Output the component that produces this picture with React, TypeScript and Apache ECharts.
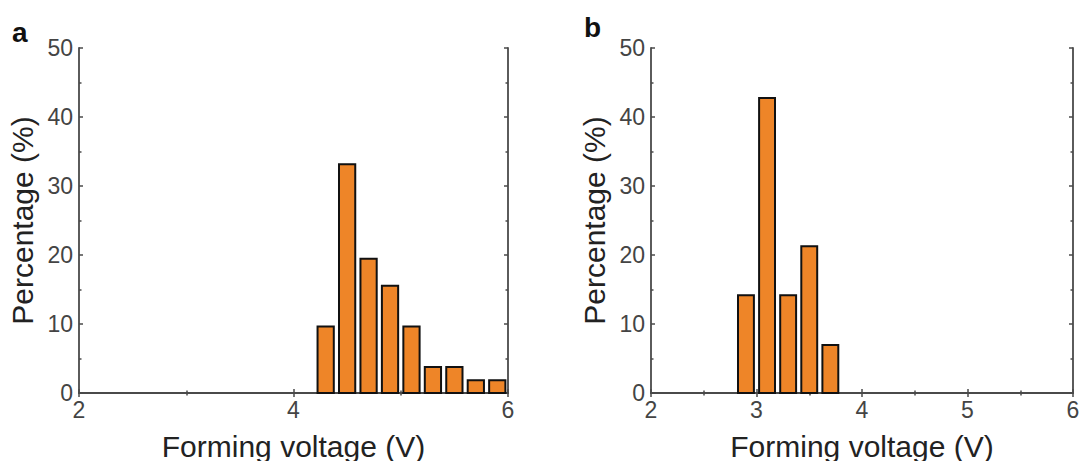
import React, { useEffect, useRef } from "react";
import * as echarts from "echarts";

// Histogram bins (bin centres, V) and share of devices in each bin (%)
const BIN_WIDTH = 0.2;
const centersA = [4.3, 4.5, 4.7, 4.9, 5.1, 5.3, 5.5, 5.7, 5.9];
const percentA = [9.8, 33.3, 19.6, 15.7, 9.8, 3.9, 3.9, 2.0, 2.0];
const centersB = [2.9, 3.1, 3.3, 3.5, 3.7];
const percentB = [14.3, 42.9, 14.3, 21.4, 7.1];

const X_MIN = 2;
const X_MAX = 6;
const Y_MIN = 0;
const Y_MAX = 50;
const Y_STEP = 10;
const X_STEP_A = 2;
const X_STEP_B = 1;

const FILL = "#EE8528";
const AXIS = "#4a4a4a";
const LABEL = "#444444";
const FONT = "Liberation Sans, Arial, sans-serif";

function binData(centers: number[], values: number[]) {
  return centers.map((c, i) => [c - BIN_WIDTH / 2, c + BIN_WIDTH / 2, values[i]]);
}

function renderBin(params: any, api: any) {
  const top = api.coord([api.value(0), api.value(2)]);
  const base = api.coord([api.value(1), 0]);
  const inset = 2.6;
  return {
    type: "rect",
    shape: {
      x: top[0] + inset,
      y: top[1] + 1,
      width: base[0] - top[0] - inset * 2,
      height: base[1] - top[1] - 1,
    },
    style: { fill: FILL, stroke: "#111", lineWidth: 2 },
  };
}

function xAxes(gridIndex: number, step: number) {
  const common = {
    gridIndex,
    type: "value",
    min: X_MIN,
    max: X_MAX,
    interval: step,
    axisLine: { show: true, lineStyle: { color: AXIS, width: 1.8 } },
    axisTick: { show: true, inside: true, length: 4, lineStyle: { color: AXIS, width: 1.5 } },
    minorTick: { show: true, splitNumber: 2, length: 2.5, lineStyle: { color: AXIS, width: 1.5 } },
    splitLine: { show: false },
  };
  return [
    {
      ...common,
      position: "bottom",
      name: "Forming voltage (V)",
      nameLocation: "middle",
      nameGap: 38,
      nameTextStyle: { fontFamily: FONT, fontSize: 30, color: "#222" },
      axisLabel: { fontFamily: FONT, fontSize: 23, color: LABEL, margin: 5 },
    },
    {
      ...common,
      position: "top",
      axisLabel: { show: false },
    },
  ];
}

function yAxes(gridIndex: number) {
  const common = {
    gridIndex,
    type: "value",
    min: Y_MIN,
    max: Y_MAX,
    interval: Y_STEP,
    axisLine: { show: true, lineStyle: { color: AXIS, width: 1.8 } },
    axisTick: { show: true, inside: true, length: 4, lineStyle: { color: AXIS, width: 1.5 } },
    minorTick: { show: true, splitNumber: 2, length: 2.5, lineStyle: { color: AXIS, width: 1.5 } },
    splitLine: { show: false },
  };
  return [
    {
      ...common,
      position: "left",
      name: "Percentage (%)",
      nameLocation: "middle",
      nameGap: 42,
      nameTextStyle: { fontFamily: FONT, fontSize: 30, color: "#222" },
      axisLabel: { fontFamily: FONT, fontSize: 23, color: LABEL, margin: 6 },
    },
    {
      ...common,
      position: "right",
      axisLabel: { show: false },
    },
  ];
}

export default function App() {
  const ref = useRef<HTMLDivElement>(null);

  useEffect(() => {
    if (!ref.current) return;
    const chart = echarts.init(ref.current, null, { renderer: "svg" });
    chart.setOption({
      animation: false,
      backgroundColor: "#ffffff",
      grid: [
        { left: 79, right: 581, top: 48, bottom: 68, outerBoundsMode: "none" },
        { left: 651, right: 16, top: 48, bottom: 68, outerBoundsMode: "none" },
      ],
      xAxis: [...xAxes(0, X_STEP_A), ...xAxes(1, X_STEP_B)],
      yAxis: [...yAxes(0), ...yAxes(1)],
      graphic: [
        {
          type: "text",
          left: 12,
          top: 18,
          style: { text: "a", font: `bold 28px ${FONT}`, fill: "#111" },
        },
        {
          type: "text",
          left: 584,
          top: 13,
          style: { text: "b", font: `bold 28px ${FONT}`, fill: "#111" },
        },
      ],
      series: [
        {
          type: "custom",
          xAxisIndex: 0,
          yAxisIndex: 0,
          renderItem: renderBin,
          encode: { x: [0, 1], y: 2 },
          data: binData(centersA, percentA),
        },
        {
          type: "custom",
          xAxisIndex: 2,
          yAxisIndex: 2,
          renderItem: renderBin,
          encode: { x: [0, 1], y: 2 },
          data: binData(centersB, percentB),
        },
      ],
    });
    return () => chart.dispose();
  }, []);

  return (
    <div
      ref={ref}
      style={{ position: "absolute", left: 0, top: 0, width: 1089, height: 461 }}
    />
  );
}
